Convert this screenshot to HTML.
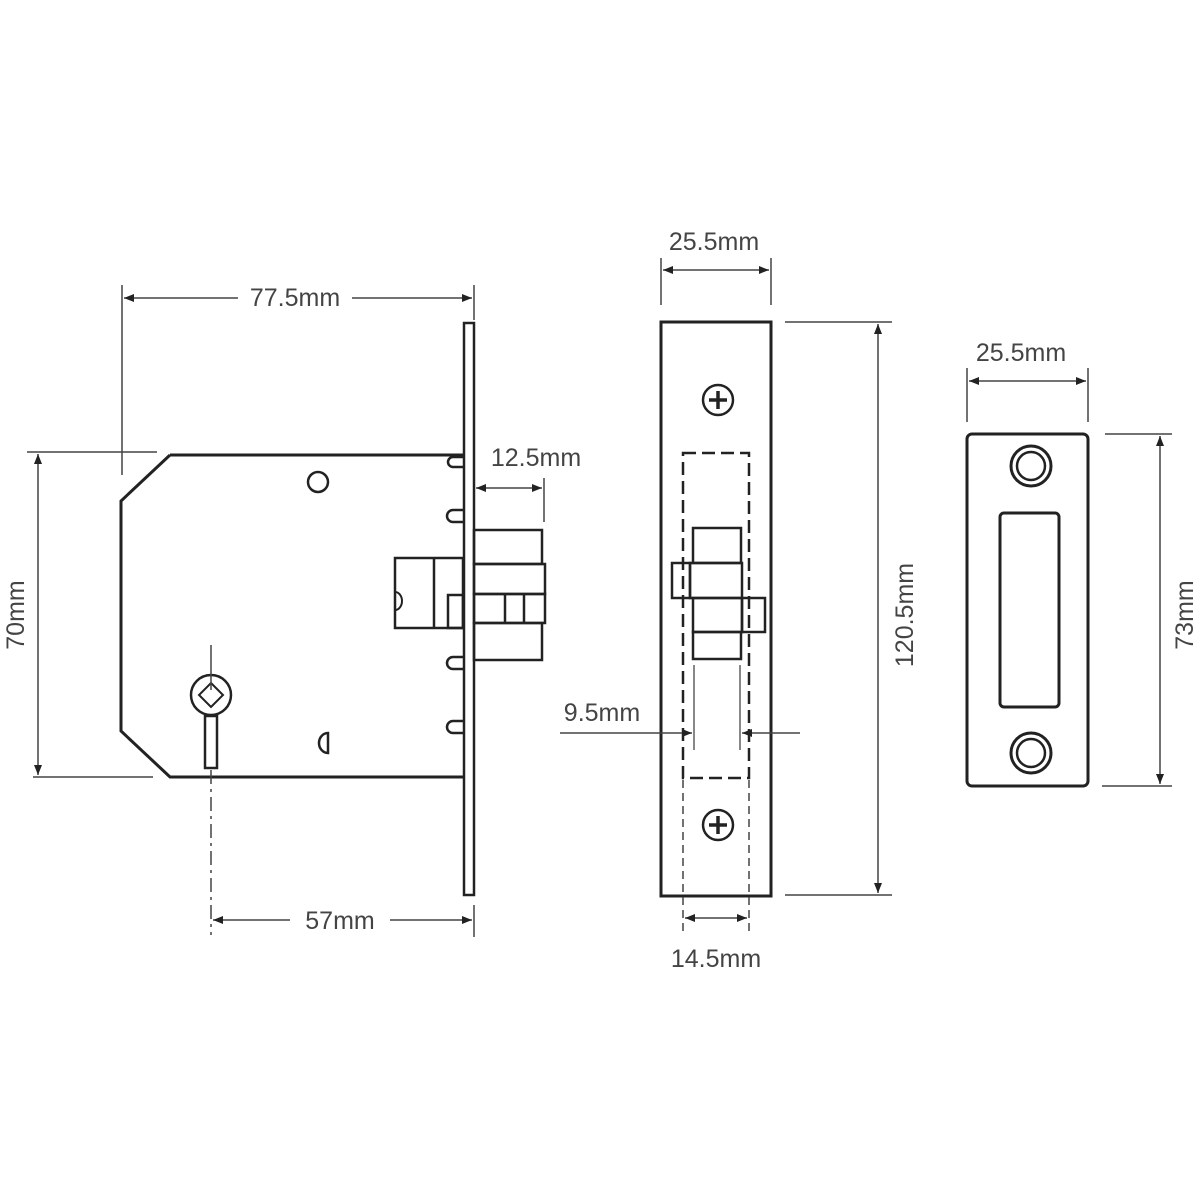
<!DOCTYPE html>
<html><head><meta charset="utf-8"><style>
html,body{margin:0;padding:0;background:#fff}
svg{display:block}
text{font-family:"Liberation Sans",sans-serif;font-size:25px;fill:#444}
</style></head><body>
<svg width="1200" height="1200" viewBox="0 0 1200 1200" xmlns="http://www.w3.org/2000/svg">
<defs>
<marker id="a" viewBox="0 0 10 10" refX="10" refY="5" markerWidth="14" markerHeight="10" markerUnits="userSpaceOnUse" orient="auto-start-reverse"><path d="M0,1 L10,5 L0,9 Z" fill="#222"/></marker>
</defs>
<g fill="none" stroke="#222" stroke-width="3">
<!-- lock body -->
<path d="M170,455 L464,455 M464,777 L170,777 L121,731 L121,501 L170,455"/>
<rect x="464" y="323" width="10" height="572" stroke-width="2.5"/>
<circle cx="318" cy="482" r="10" stroke-width="2.5"/>
<path d="M328,733 A9,10 0 0 0 328,753 Z" stroke-width="2.5"/>
<!-- tabs -->
<path d="M463,457 h-10 a5,5 0 0 0 0,10 h10 M463,510 h-10 a6,6 0 0 0 0,12 h10 M463,657 h-10 a6,6 0 0 0 0,12 h10 M463,721 h-10 a6,6 0 0 0 0,12 h10" stroke-width="2.5"/>
<!-- bolts -->
<rect x="474" y="530" width="68" height="34" stroke-width="2.5"/>
<rect x="474" y="564" width="71" height="30" stroke-width="2.5"/>
<rect x="474" y="594" width="71" height="29" stroke-width="2.5"/>
<line x1="505" y1="594" x2="505" y2="623" stroke-width="2.5"/>
<line x1="524" y1="594" x2="524" y2="623" stroke-width="2.5"/>
<rect x="474" y="623" width="68" height="37" stroke-width="2.5"/>
<rect x="395" y="558" width="68" height="70" stroke-width="2.5"/>
<line x1="434" y1="558" x2="434" y2="628" stroke-width="2.5"/>
<rect x="448" y="595" width="15" height="33" stroke-width="2.5"/>
<path d="M395,592 a7,9 0 0 1 0,18" stroke-width="2"/>
<!-- keyhole -->
<circle cx="211" cy="695" r="20" stroke-width="2.5"/>
<path d="M211,683 L223,695 L211,707 L199,695 Z" stroke-width="2"/>
<rect x="205" y="716" width="12" height="52" stroke-width="2.5"/>
</g>
<g stroke="#444" stroke-width="1.5" fill="none">
<line x1="211" y1="645" x2="211" y2="690"/>
<line x1="211" y1="770" x2="211" y2="935" stroke-dasharray="14,5,3,5"/>
<!-- 77.5 -->
<line x1="122" y1="285" x2="122" y2="475"/>
<line x1="474" y1="285" x2="474" y2="320"/>
<line x1="124" y1="298" x2="238" y2="298" marker-start="url(#a)"/>
<line x1="352" y1="298" x2="472" y2="298" marker-end="url(#a)"/>
<!-- 70 -->
<line x1="27" y1="452" x2="157" y2="452"/>
<line x1="33" y1="777" x2="153" y2="777"/>
<line x1="38" y1="454" x2="38" y2="775" marker-start="url(#a)" marker-end="url(#a)"/>
<!-- 57 -->
<line x1="474" y1="905" x2="474" y2="937"/>
<line x1="213" y1="920" x2="290" y2="920" marker-start="url(#a)"/>
<line x1="390" y1="920" x2="472" y2="920" marker-end="url(#a)"/>
<!-- 12.5 -->
<line x1="544" y1="478" x2="544" y2="522"/>
<line x1="476" y1="488" x2="542" y2="488" marker-start="url(#a)" marker-end="url(#a)"/>
</g>
<text x="295" y="306" text-anchor="middle">77.5mm</text>
<text x="340" y="929" text-anchor="middle">57mm</text>
<text x="536" y="466" text-anchor="middle">12.5mm</text>
<text transform="translate(24,615) rotate(-90)" text-anchor="middle">70mm</text>

<!-- middle plate -->
<g fill="none" stroke="#222" stroke-width="3">
<rect x="661" y="322" width="110" height="574"/>
<circle cx="718" cy="400" r="15" stroke-width="2.5"/>
<circle cx="718" cy="825" r="15" stroke-width="2.5"/>
<path d="M709,400 h18 M718,391 v18 M709,825 h18 M718,816 v18" stroke-width="3.5"/>
<rect x="683" y="453" width="66" height="325" stroke-width="2.5" stroke-dasharray="13,6"/>
<rect x="693" y="528" width="48" height="35" stroke-width="2.5"/>
<rect x="672" y="563" width="18" height="35" stroke-width="2.5"/>
<rect x="690" y="563" width="52" height="35" stroke-width="2.5"/>
<rect x="693" y="598" width="49" height="34" stroke-width="2.5"/>
<rect x="742" y="598" width="23" height="34" stroke-width="2.5"/>
<rect x="693" y="632" width="48" height="27" stroke-width="2.5"/>
</g>
<g stroke="#444" stroke-width="1.5" fill="none">
<line x1="683" y1="780" x2="683" y2="935" stroke-dasharray="8,5"/>
<line x1="749" y1="780" x2="749" y2="935" stroke-dasharray="8,5"/>
<line x1="694" y1="665" x2="694" y2="750" stroke="#888" stroke-width="2"/>
<line x1="740" y1="665" x2="740" y2="750" stroke="#888" stroke-width="2"/>
<line x1="560" y1="733" x2="692" y2="733" marker-end="url(#a)"/>
<line x1="800" y1="733" x2="742" y2="733" marker-end="url(#a)"/>
<line x1="685" y1="918" x2="747" y2="918" marker-start="url(#a)" marker-end="url(#a)"/>
<line x1="661" y1="258" x2="661" y2="305"/>
<line x1="771" y1="258" x2="771" y2="305"/>
<line x1="663" y1="270" x2="769" y2="270" marker-start="url(#a)" marker-end="url(#a)"/>
<line x1="785" y1="322" x2="892" y2="322"/>
<line x1="785" y1="895" x2="892" y2="895"/>
<line x1="878" y1="324" x2="878" y2="893" marker-start="url(#a)" marker-end="url(#a)"/>
</g>
<text x="602" y="721" text-anchor="middle">9.5mm</text>
<text x="714" y="250" text-anchor="middle">25.5mm</text>
<text x="716" y="967" text-anchor="middle">14.5mm</text>
<text transform="translate(913,615) rotate(-90)" text-anchor="middle">120.5mm</text>

<!-- right plate -->
<g fill="none" stroke="#222" stroke-width="3">
<rect x="967" y="434" width="121" height="352" rx="5"/>
<circle cx="1031" cy="466" r="20"/>
<circle cx="1031" cy="466" r="14" stroke-width="2.5"/>
<circle cx="1031" cy="753" r="20"/>
<circle cx="1031" cy="753" r="14" stroke-width="2.5"/>
<rect x="1000" y="513" width="59" height="194" rx="4"/>
</g>
<g stroke="#444" stroke-width="1.5" fill="none">
<line x1="967" y1="368" x2="967" y2="422"/>
<line x1="1088" y1="368" x2="1088" y2="422"/>
<line x1="969" y1="381" x2="1086" y2="381" marker-start="url(#a)" marker-end="url(#a)"/>
<line x1="1105" y1="434" x2="1172" y2="434"/>
<line x1="1102" y1="786" x2="1172" y2="786"/>
<line x1="1160" y1="436" x2="1160" y2="784" marker-start="url(#a)" marker-end="url(#a)"/>
</g>
<text x="1021" y="361" text-anchor="middle">25.5mm</text>
<text transform="translate(1193,615) rotate(-90)" text-anchor="middle">73mm</text>
</svg>
</body></html>
